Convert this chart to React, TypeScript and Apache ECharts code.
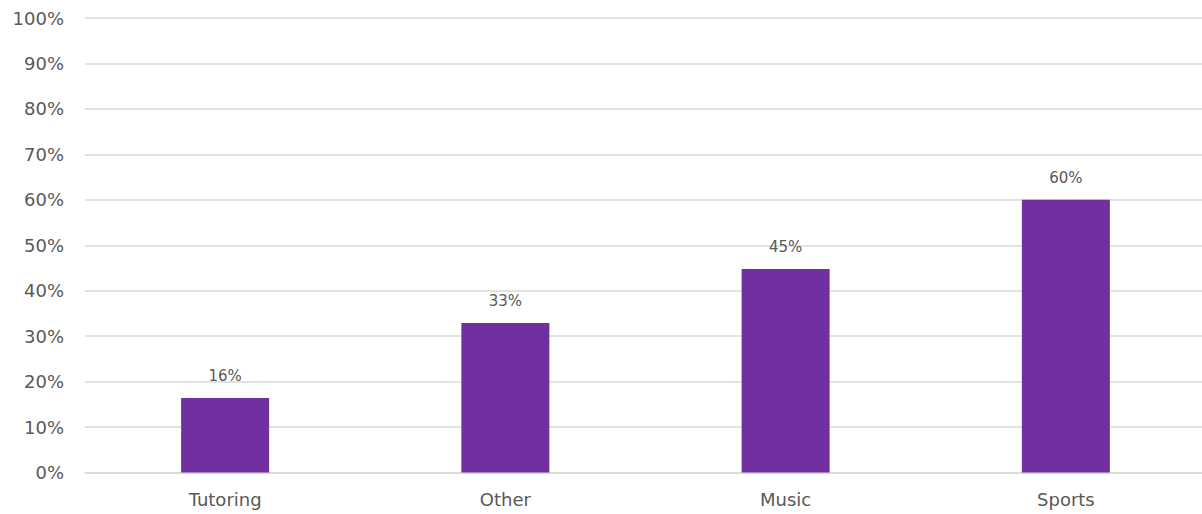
import React, { useEffect, useRef } from "react";
import * as echarts from "echarts";

const categories = ["Tutoring", "Other", "Music", "Sports"];
const values = [16.4, 32.9, 44.8, 60.0];
const yTicks = [0, 10, 20, 30, 40, 50, 60, 70, 80, 90, 100];

const FONT = "'DejaVu Sans', sans-serif";

export default function App() {
  const ref = useRef<HTMLDivElement>(null);
  useEffect(() => {
    if (!ref.current) return;
    const chart = echarts.init(ref.current, null, { renderer: "svg" });
    chart.setOption({
      animation: false,
      grid: { left: 85, top: 18, width: 1121, height: 454.5, containLabel: false },
      xAxis: {
        type: "category",
        data: categories,
        axisLine: { show: true, lineStyle: { color: "#d9d9d9", width: 1.5 } },
        axisTick: { show: false },
        axisLabel: { color: "#595959", fontSize: 18, fontFamily: FONT, margin: 18 },
      },
      yAxis: {
        type: "value",
        min: yTicks[0],
        max: yTicks[yTicks.length - 1],
        interval: 10,
        axisLine: { show: false },
        axisTick: { show: false },
        splitLine: { lineStyle: { color: "#d9d9d9", width: 1.5 } },
        axisLabel: {
          color: "#595959",
          fontSize: 18,
          fontFamily: FONT,
          margin: 21,
          formatter: (v: number) => `${v}%`,
        },
      },
      series: [
        {
          type: "bar",
          data: values,
          barWidth: 88,
          itemStyle: { color: "#7030A0" },
          label: {
            show: true,
            position: "top",
            distance: 14,
            color: "#595959",
            fontSize: 15,
            fontFamily: FONT,
            formatter: (p: any) => `${Math.round(p.value)}%`,
          },
        },
      ],
    });
    return () => chart.dispose();
  }, []);
  return (
    <div
      style={{
        position: "absolute",
        left: 0,
        top: 0,
        width: 1202,
        height: 514,
        overflow: "hidden",
      }}
    >
      <div ref={ref} style={{ width: 1212, height: 514 }} />
    </div>
  );
}
